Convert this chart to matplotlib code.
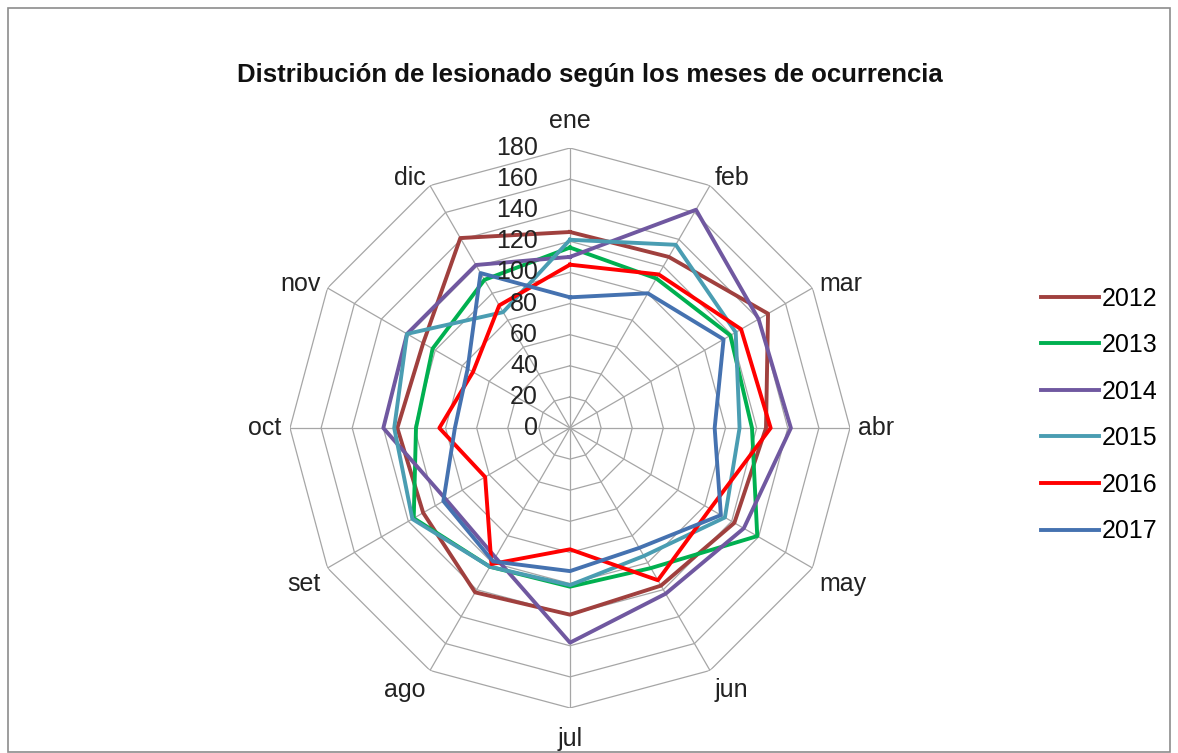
import matplotlib
matplotlib.use('Agg')
import matplotlib.pyplot as plt
import numpy as np
from matplotlib.patches import Rectangle

plt.rcParams['font.family'] = ['Liberation Sans', 'DejaVu Sans']

# datos
meses = ['ene', 'feb', 'mar', 'abr', 'may', 'jun', 'jul', 'ago', 'set', 'oct', 'nov', 'dic']
anios = ['2012', '2013', '2014', '2015', '2016', '2017']
v2012 = [126, 127, 147, 126, 122, 117, 120, 122, 109, 111, 109, 141]
v2013 = [116, 111, 119, 117, 139, 104, 102, 103, 116, 99, 102, 110]
v2014 = [110, 162, 140, 142, 129, 123, 138, 96, 92, 120, 121, 121]
v2015 = [121, 136, 123, 109, 115, 95, 101, 103, 117, 113, 121, 86]
v2016 = [105, 114, 127, 129, 104, 113, 78, 101, 63, 84, 72, 91]
v2017 = [84, 100, 114, 93, 112, 89, 92, 99, 94, 74, 76, 115]
niveles = [0, 20, 40, 60, 80, 100, 120, 140, 160, 180]

series = [v2012, v2013, v2014, v2015, v2016, v2017]
colores = ['#A0403E', '#00B050', '#7058A0', '#4A9DB2', '#FF0000', '#4572B0']

W, H = 1178, 753
fig = plt.figure(figsize=(W / 100, H / 100), dpi=100)

# borde del grafico
fig.patches.append(Rectangle((8 / W, 1 / H), 1162 / W, 744 / H, transform=fig.transFigure,
                             fill=False, edgecolor='#8C8C8C', lw=1.2))

cx, cy, rad = 570, 428, 280
ax = fig.add_axes([(cx - rad) / W, 1 - (cy + rad) / H, 2 * rad / W, 2 * rad / H], projection='polar')
ax.set_theta_zero_location('N')
ax.set_theta_direction(-1)
ax.set_ylim(0, 180)
ax.grid(False)
ax.set_xticks([])
ax.set_yticks([])
ax.spines['polar'].set_visible(False)
ax.patch.set_alpha(0)

n = len(meses)
ang = np.linspace(0, 2 * np.pi, n, endpoint=False)
ang_c = np.append(ang, ang[0])

# rejilla poligonal
for v in niveles[1:]:
    ax.plot(ang_c, [v] * (n + 1), color='#A6A6A6', lw=0.9, zorder=1)
for a in ang:
    ax.plot([a, a], [0, niveles[-1]], color='#A6A6A6', lw=0.9, zorder=1)

# etiquetas radiales
for v in niveles:
    ax.annotate(str(v), xy=(0, v), xytext=(-23, 0), textcoords='offset points',
                ha='right', va='center', fontsize=18, color='#222222', zorder=5)

# etiquetas de los meses
for a, m in zip(ang, meses):
    s, c = np.sin(a), np.cos(a)
    ha = 'center' if abs(s) < 0.1 else ('left' if s > 0 else 'right')
    if c > 0.9:
        va = 'bottom'
    elif c < -0.3:
        va = 'top'
    else:
        va = 'center'
    dx = 6 * s
    dy = 6 * c + (5 if c > 0.9 else 0) - (8 if c < -0.9 else 0)
    ax.annotate(m, xy=(a, niveles[-1]), xytext=(dx, dy), textcoords='offset points',
                ha=ha, va=va, fontsize=18, color='#222222')

# series
for vals, col, lab in zip(series, colores, anios):
    ax.plot(ang_c, vals + vals[:1], color=col, lw=2.8, label=lab, zorder=3)

fig.text(0.501, 1 - 75 / H, 'Distribución de lesionado según los meses de ocurrencia',
         ha='center', va='center', fontsize=18.5, fontweight='bold', color='#111111')

fig.legend(loc='center left', bbox_to_anchor=(0.884, 1 - 415 / H), frameon=False,
           fontsize=18, handlelength=2.3, handletextpad=0.1, labelspacing=0.9,
           borderaxespad=0, borderpad=0)

fig.savefig('out.png', dpi=100)
